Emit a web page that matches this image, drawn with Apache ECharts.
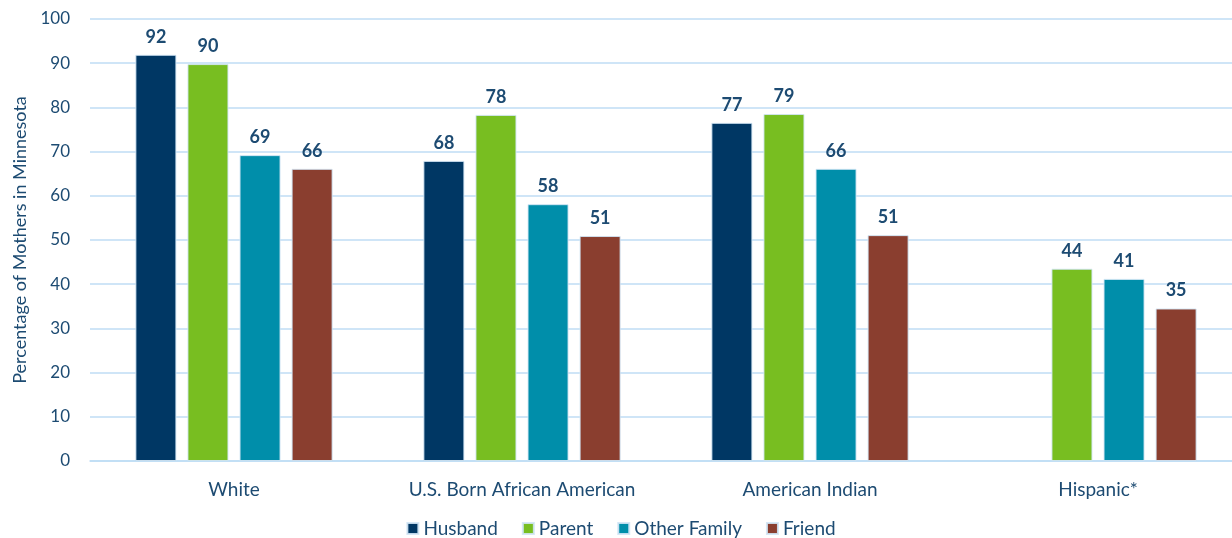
<!DOCTYPE html>
<html><head><meta charset="utf-8">
<script src="https://cdn.jsdelivr.net/npm/echarts@6/dist/echarts.min.js"></script>
<style>html,body{margin:0;padding:0;background:#fff;overflow:hidden}#c{width:1242px;height:538px}</style>
</head><body><div id="c"></div>
<script>
const categories = ['White', 'U.S. Born African American', 'American Indian', 'Hispanic*'];
const seriesNames = ['Husband', 'Parent', 'Other Family', 'Friend'];
const husband = [91.9, 67.9, 76.5, null];
const parent = [89.8, 78.3, 78.5, 43.5];
const otherFamily = [69.2, 58.1, 66.1, 41.2];
const friend = [66.1, 50.9, 51.1, 34.5];
const yTicks = [0, 10, 20, 30, 40, 50, 60, 70, 80, 90, 100];

const colors = ['#003764', '#78BE21', '#008EAA', '#8A3E2F'];
const textColor = '#1D4B72';
const font = 'Lato, "Open Sans", sans-serif';
const allData = [husband, parent, otherFamily, friend];

const chart = echarts.init(document.getElementById('c'));
chart.setOption({
  animation: false,
  color: colors,
  textStyle: { fontFamily: font },
  grid: { left: 90, right: 0, top: 19, bottom: 77, containLabel: false },
  legend: {
    top: 514, left: 'center', itemWidth: 11, itemHeight: 11, itemGap: 24,
    icon: 'rect',
    textStyle: { color: textColor, fontSize: 19, fontFamily: font },
    data: seriesNames
  },
  xAxis: {
    type: 'category', data: categories,
    axisLine: { show: true, lineStyle: { color: '#BFDDF5', width: 1.5 } },
    axisTick: { show: false },
    axisLabel: { color: textColor, fontSize: 19, margin: 19, fontFamily: font, interval: 0 }
  },
  yAxis: {
    type: 'value', min: yTicks[0], max: yTicks[yTicks.length - 1], interval: 10,
    name: 'Percentage of Mothers in Minnesota', nameLocation: 'middle', nameGap: 59,
    nameTextStyle: { color: textColor, fontSize: 18, fontFamily: font },
    axisLine: { show: false }, axisTick: { show: false },
    axisLabel: { color: textColor, fontSize: 17, margin: 20, fontFamily: font },
    splitLine: { lineStyle: { color: '#BFDDF5', width: 1.5 } }
  },
  series: seriesNames.map((n, i) => ({
    name: n, type: 'bar', data: allData[i],
    barWidth: 41, barGap: '27%',
    itemStyle: { borderColor: 'rgba(210,230,245,0.9)', borderWidth: 1 },
    label: {
      show: true, position: 'top', distance: 9, color: textColor,
      fontSize: 18, fontWeight: 'bold', fontFamily: font,
      formatter: p => p.value == null ? '' : Math.round(p.value)
    }
  }))
});
</script></body></html>
